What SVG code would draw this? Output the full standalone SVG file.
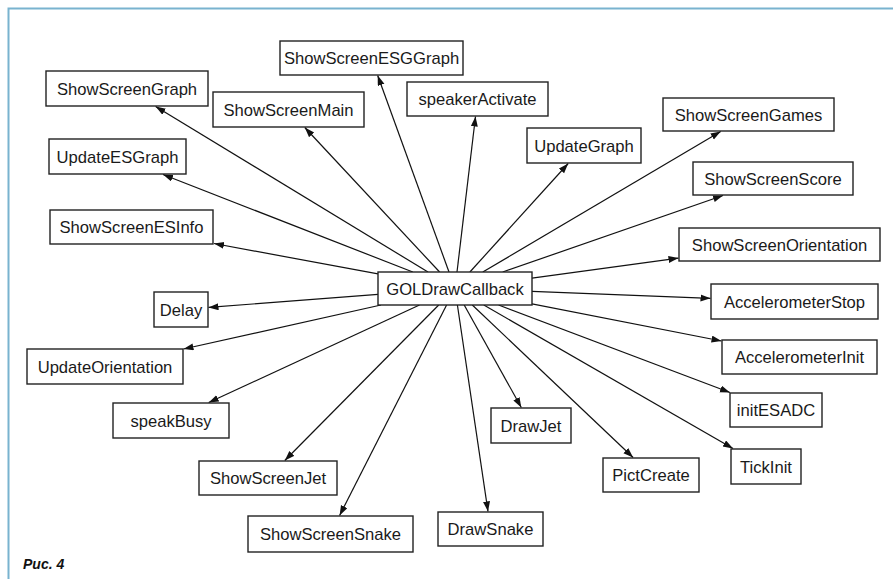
<svg xmlns="http://www.w3.org/2000/svg" width="893" height="579" viewBox="0 0 893 579">
<defs>
<marker id="arr" markerUnits="userSpaceOnUse" markerWidth="11" markerHeight="8" refX="10" refY="3.5" orient="auto">
<path d="M0,0 L10,3.5 L0,7 z" fill="#111"/>
</marker>
<style>
.n rect{fill:#fff;stroke:#222;stroke-width:1.4}
.n text{font-family:"Liberation Sans",Arial,sans-serif;font-size:16.6px;fill:#1a1a1a;text-anchor:middle}
#edges line{stroke:#111;stroke-width:1.2;marker-end:url(#arr)}
.frame{stroke:#79b3cf;stroke-width:2;fill:none}
</style>
</defs>
<rect width="893" height="579" fill="#fff"/>
<path class="frame" d="M8.5,579 L8.5,8.5 L893,8.5"/>
<g id="edges">
<line x1="449" y1="272" x2="377.7" y2="75.5"/>
<line x1="428" y1="272" x2="155.6" y2="106.5"/>
<line x1="439.6" y1="272" x2="304.8" y2="127.5"/>
<line x1="457" y1="272" x2="475.5" y2="116.5"/>
<line x1="412.8" y1="272" x2="163" y2="174.5"/>
<line x1="469.9" y1="272" x2="568.2" y2="163.5"/>
<line x1="482.8" y1="272" x2="720.7" y2="131.5"/>
<line x1="502.7" y1="272" x2="723" y2="195.5"/>
<line x1="378" y1="273.9" x2="214" y2="243.5"/>
<line x1="378" y1="294.4" x2="208.5" y2="307.4"/>
<line x1="381" y1="305" x2="183.5" y2="349"/>
<line x1="532" y1="278.1" x2="678.5" y2="258.1"/>
<line x1="532" y1="291.4" x2="710.5" y2="298.3"/>
<line x1="532" y1="303.8" x2="721.5" y2="341"/>
<line x1="419.5" y1="305" x2="208.7" y2="402.5"/>
<line x1="438.7" y1="305" x2="284.8" y2="460.5"/>
<line x1="446.6" y1="305" x2="339.6" y2="515.5"/>
<line x1="457.4" y1="305" x2="488" y2="511.5"/>
<line x1="464.2" y1="305" x2="521.3" y2="407.5"/>
<line x1="472.3" y1="305" x2="633.1" y2="457.5"/>
<line x1="483.8" y1="305" x2="733" y2="448.5"/>
<line x1="498.6" y1="305" x2="730" y2="392.5"/>
</g>
<g id="GOLDrawCallback" class="n"><rect x="378" y="272" width="154" height="33"/><text x="455" y="294.5">GOLDrawCallback</text></g>
<g id="ShowScreenESGGraph" class="n"><rect x="280" y="41" width="183" height="34"/><text x="371.5" y="64">ShowScreenESGGraph</text></g>
<g id="ShowScreenGraph" class="n"><rect x="46" y="71" width="162" height="35"/><text x="127" y="94.5">ShowScreenGraph</text></g>
<g id="ShowScreenMain" class="n"><rect x="213" y="92" width="151" height="35"/><text x="288.5" y="115.5">ShowScreenMain</text></g>
<g id="speakerActivate" class="n"><rect x="407" y="82" width="141" height="34"/><text x="477.5" y="105">speakerActivate</text></g>
<g id="UpdateESGraph" class="n"><rect x="49" y="139" width="137" height="35"/><text x="117.5" y="162.5">UpdateESGraph</text></g>
<g id="UpdateGraph" class="n"><rect x="527" y="128" width="114" height="35"/><text x="584" y="151.5">UpdateGraph</text></g>
<g id="ShowScreenGames" class="n"><rect x="663" y="98" width="171" height="33"/><text x="748.5" y="120.5">ShowScreenGames</text></g>
<g id="ShowScreenScore" class="n"><rect x="693" y="162" width="160" height="33"/><text x="773" y="184.5">ShowScreenScore</text></g>
<g id="ShowScreenESInfo" class="n"><rect x="50" y="210" width="163" height="34"/><text x="131.5" y="233">ShowScreenESInfo</text></g>
<g id="Delay" class="n"><rect x="154" y="292" width="54" height="35"/><text x="181" y="315.5">Delay</text></g>
<g id="UpdateOrientation" class="n"><rect x="27" y="349" width="156" height="35"/><text x="105" y="372.5">UpdateOrientation</text></g>
<g id="ShowScreenOrientation" class="n"><rect x="679" y="228" width="201" height="33"/><text x="779.5" y="250.5">ShowScreenOrientation</text></g>
<g id="AccelerometerStop" class="n"><rect x="711" y="284" width="167" height="35"/><text x="794.5" y="307.5">AccelerometerStop</text></g>
<g id="AccelerometerInit" class="n"><rect x="722" y="340" width="155" height="34"/><text x="799.5" y="363">AccelerometerInit</text></g>
<g id="speakBusy" class="n"><rect x="113" y="403" width="116" height="35"/><text x="171" y="426.5">speakBusy</text></g>
<g id="ShowScreenJet" class="n"><rect x="199" y="461" width="138" height="34"/><text x="268" y="484">ShowScreenJet</text></g>
<g id="ShowScreenSnake" class="n"><rect x="248" y="516" width="165" height="36"/><text x="330.5" y="540">ShowScreenSnake</text></g>
<g id="DrawSnake" class="n"><rect x="438" y="512" width="105" height="34"/><text x="490.5" y="535">DrawSnake</text></g>
<g id="DrawJet" class="n"><rect x="491" y="408" width="80" height="35"/><text x="531" y="431.5">DrawJet</text></g>
<g id="PictCreate" class="n"><rect x="603" y="458" width="96" height="34"/><text x="651" y="481">PictCreate</text></g>
<g id="TickInit" class="n"><rect x="731" y="449" width="70" height="35"/><text x="766" y="472.5">TickInit</text></g>
<g id="initESADC" class="n"><rect x="730" y="393" width="92" height="34"/><text x="776" y="416">initESADC</text></g>
<text x="23" y="569" font-family="Liberation Sans, Arial, sans-serif" font-size="14" font-weight="bold" font-style="italic" fill="#111">Рис. 4</text>
</svg>
